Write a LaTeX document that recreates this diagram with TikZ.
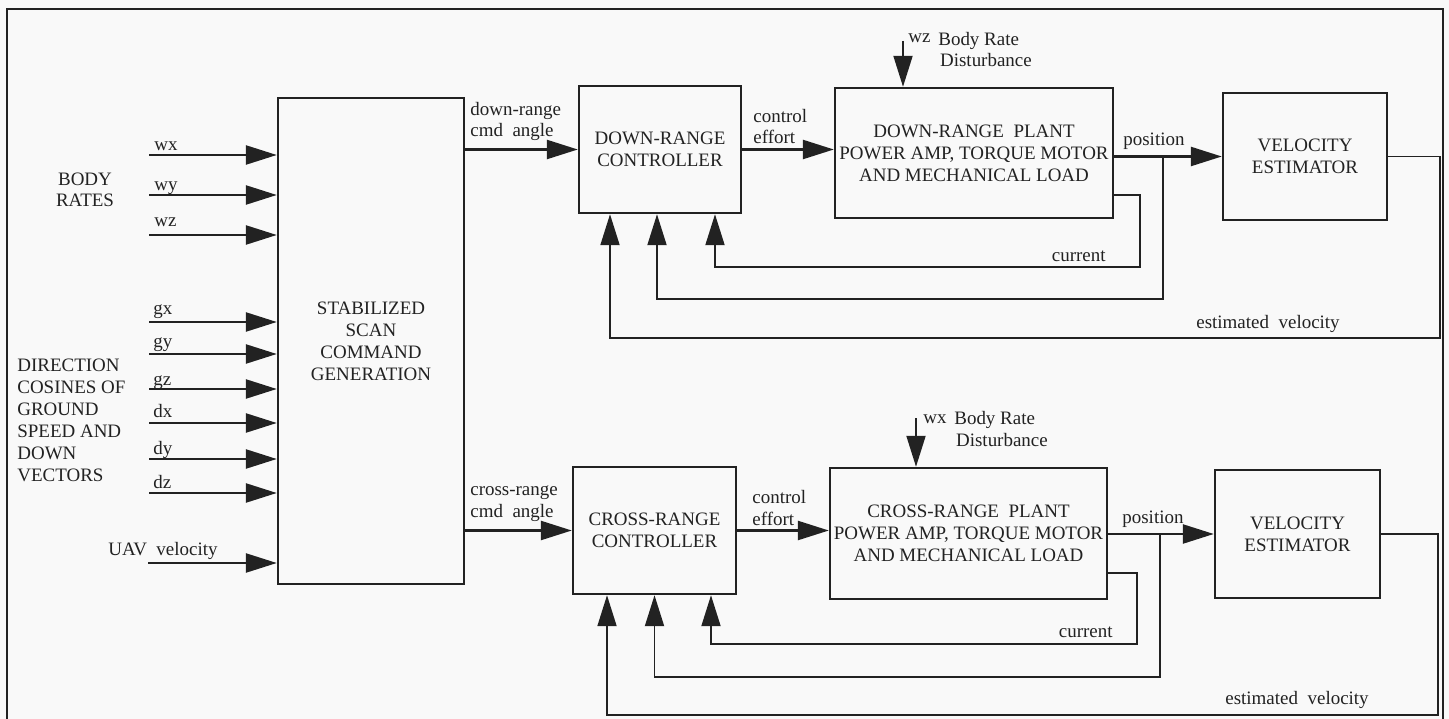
\documentclass[tikz,border=0pt]{standalone}
\usepackage{fontspec}
\setmainfont{Liberation Serif}
\usetikzlibrary{arrows.meta}
\definecolor{ink}{HTML}{222222}
\definecolor{paper}{HTML}{F9F9F9}
\newcommand{\blockfont}{\fontsize{10.8}{12.5}\selectfont}

\begin{document}
\begin{tikzpicture}[x=0.02cm, y=-0.02cm,
  box/.style={draw=ink, line width=1.4pt, align=center, inner sep=2pt, font=\blockfont, text=ink},
  arr/.style={draw=ink, line width=1.4pt, -{Triangle[length=0.62cm,width=0.38cm]}},
  fb/.style={arr, line width=1.1pt},
  lbl/.style={inner sep=0pt, font=\blockfont, text=ink}]
  \useasboundingbox[fill=paper] (0,0) rectangle (1449,719);
  % frame
  \draw[ink, line width=1.3pt] (7,719) -- (7,9) -- (1443,9) -- (1443,719);

  % command generation (left)
  \node[box, minimum width=3.72cm, minimum height=9.72cm] (sscg) at (371,341) {STABILIZED\\SCAN\\COMMAND\\GENERATION};
  \node[lbl, align=center, anchor=base] (l-body) at (85,207) {BODY\\RATES};
  \node[lbl, align=left, anchor=base west] (l-dir) at (17,481) {DIRECTION\\COSINES OF\\GROUND\\SPEED AND\\DOWN\\VECTORS};
  \coordinate (in-wx) at (149,155);
  \coordinate (in-wy) at (149,195);
  \coordinate (in-wz) at (149,235);
  \coordinate (in-gx) at (149,322);
  \coordinate (in-gy) at (149,354);
  \coordinate (in-gz) at (149,389);
  \coordinate (in-dx) at (149,423);
  \coordinate (in-dy) at (149,459);
  \coordinate (in-dz) at (149,493);
  \coordinate (in-uav) at (148,563);
  \draw[arr] (in-wx) -- (in-wx -| sscg.west);
  \draw[arr] (in-wy) -- (in-wy -| sscg.west);
  \draw[arr] (in-wz) -- (in-wz -| sscg.west);
  \draw[arr] (in-gx) -- (in-gx -| sscg.west);
  \draw[arr] (in-gy) -- (in-gy -| sscg.west);
  \draw[arr] (in-gz) -- (in-gz -| sscg.west);
  \draw[arr] (in-dx) -- (in-dx -| sscg.west);
  \draw[arr] (in-dy) -- (in-dy -| sscg.west);
  \draw[arr] (in-dz) -- (in-dz -| sscg.west);
  \draw[arr] (in-uav) -- (in-uav -| sscg.west);
  \node[lbl, anchor=base west] (l-wx) at (154,151) {wx};
  \node[lbl, anchor=base west] (l-wy) at (154,191) {wy};
  \node[lbl, anchor=base west] (l-wz) at (154,227) {wz};
  \node[lbl, anchor=base west] (l-gx) at (153,315) {gx};
  \node[lbl, anchor=base west] (l-gy) at (153,347) {gy};
  \node[lbl, anchor=base west] (l-gz) at (153,385) {gz};
  \node[lbl, anchor=base west] (l-dx) at (153,417) {dx};
  \node[lbl, anchor=base west] (l-dy) at (153,454) {dy};
  \node[lbl, anchor=base west] (l-dz) at (153,488) {dz};
  \node[lbl, anchor=base west] (l-uav) at (108,555) {UAV~ velocity};

  % down-range loop (top)
  \node[box, minimum width=3.24cm, minimum height=2.54cm] (drc) at (660,149.5) {DOWN-RANGE\\CONTROLLER};
  \node[box, minimum width=5.56cm, minimum height=2.6cm] (drp) at (974,153) {DOWN-RANGE~~PLANT\\POWER AMP, TORQUE MOTOR\\AND MECHANICAL LOAD};
  \node[box, minimum width=3.28cm, minimum height=2.54cm] (dve) at (1305,156.5) {VELOCITY\\ESTIMATOR};
  \coordinate (dr-dist) at (903,41);
  \coordinate (dr-pos) at (1163,156.5);
  \coordinate (dr-posc) at (1163,299);
  \coordinate (dr-cur) at (1140,267);
  \coordinate (dr-evc) at (1440,338);
  \draw[arr] (drc.west -| sscg.east) -- (drc.west);
  \draw[arr] (drc.east) -- (drc.east -| drp.west);
  \draw[arr] (drp.east |- dve.west) -- (dve.west);
  \draw[fb] (dr-dist) -- (dr-dist |- drp.north);
  \draw[fb] ([yshift=-0.84cm]drp.east) -| (dr-cur) -| ([xshift=1.1cm]drc.south);
  \draw[fb] (dr-pos) -- (dr-posc) -| ([xshift=-0.06cm]drc.south);
  \draw[fb] (dve.east) -| (dr-evc) -| ([xshift=-1cm]drc.south);
  \node[lbl, anchor=base west, align=left] (l-drcmd) at (470,137) {down-range\\cmd~~angle};
  \node[lbl, anchor=base west, align=left] (l-dreff) at (753,144) {control\\effort};
  \node[lbl, anchor=base west] (l-drpos) at (1123,146) {position};
  \node[lbl, anchor=base east] (l-drcur) at (1106,262) {current};
  \node[lbl, anchor=base west] (l-drev) at (1196,328) {estimated~~velocity};
  \node[lbl, anchor=base west] (l-drw) at (908,43) {wz};
  \node[lbl, anchor=base west, align=left] (l-drdist) at (938,67) {Body Rate\\\hspace*{1pt}Disturbance};

  % cross-range loop (bottom)
  \node[box, minimum width=3.26cm, minimum height=2.54cm] (crc) at (654.5,530.5) {CROSS-RANGE\\CONTROLLER};
  \node[box, minimum width=5.54cm, minimum height=2.62cm] (crp) at (968.5,533.5) {CROSS-RANGE~~PLANT\\POWER AMP, TORQUE MOTOR\\AND MECHANICAL LOAD};
  \node[box, minimum width=3.3cm, minimum height=2.56cm] (cve) at (1297.5,534) {VELOCITY\\ESTIMATOR};
  \coordinate (cr-dist) at (916,418);
  \coordinate (cr-pos) at (1160,534);
  \coordinate (cr-posc) at (1160,677);
  \coordinate (cr-cur) at (1137,644);
  \coordinate (cr-evc) at (1438,715);
  \draw[arr] (crc.west -| sscg.east) -- (crc.west);
  \draw[arr] (crc.east) -- (crc.east -| crp.west);
  \draw[arr] (crp.east |- cve.west) -- (cve.west);
  \draw[fb] (cr-dist) -- (cr-dist |- crp.north);
  \draw[fb] ([yshift=-0.79cm]crp.east) -| (cr-cur) -| ([xshift=1.13cm]crc.south);
  \draw[fb] (cr-pos) -- (cr-posc) -| (crc.south);
  \draw[fb] (cve.east) -| (cr-evc) -| ([xshift=-0.95cm]crc.south);
  \node[lbl, anchor=base west, align=left] (l-crcmd) at (470,517) {cross-range\\cmd~~angle};
  \node[lbl, anchor=base west, align=left] (l-creff) at (752,525) {control\\effort};
  \node[lbl, anchor=base west] (l-crpos) at (1122,523) {position};
  \node[lbl, anchor=base east] (l-crcur) at (1113,637) {current};
  \node[lbl, anchor=base west] (l-crev) at (1225,704) {estimated~~velocity};
  \node[lbl, anchor=base west] (l-crw) at (923,423) {wx};
  \node[lbl, anchor=base west, align=left] (l-crdist) at (954,446) {Body Rate\\\hspace*{1pt}Disturbance};
\end{tikzpicture}
\end{document}
